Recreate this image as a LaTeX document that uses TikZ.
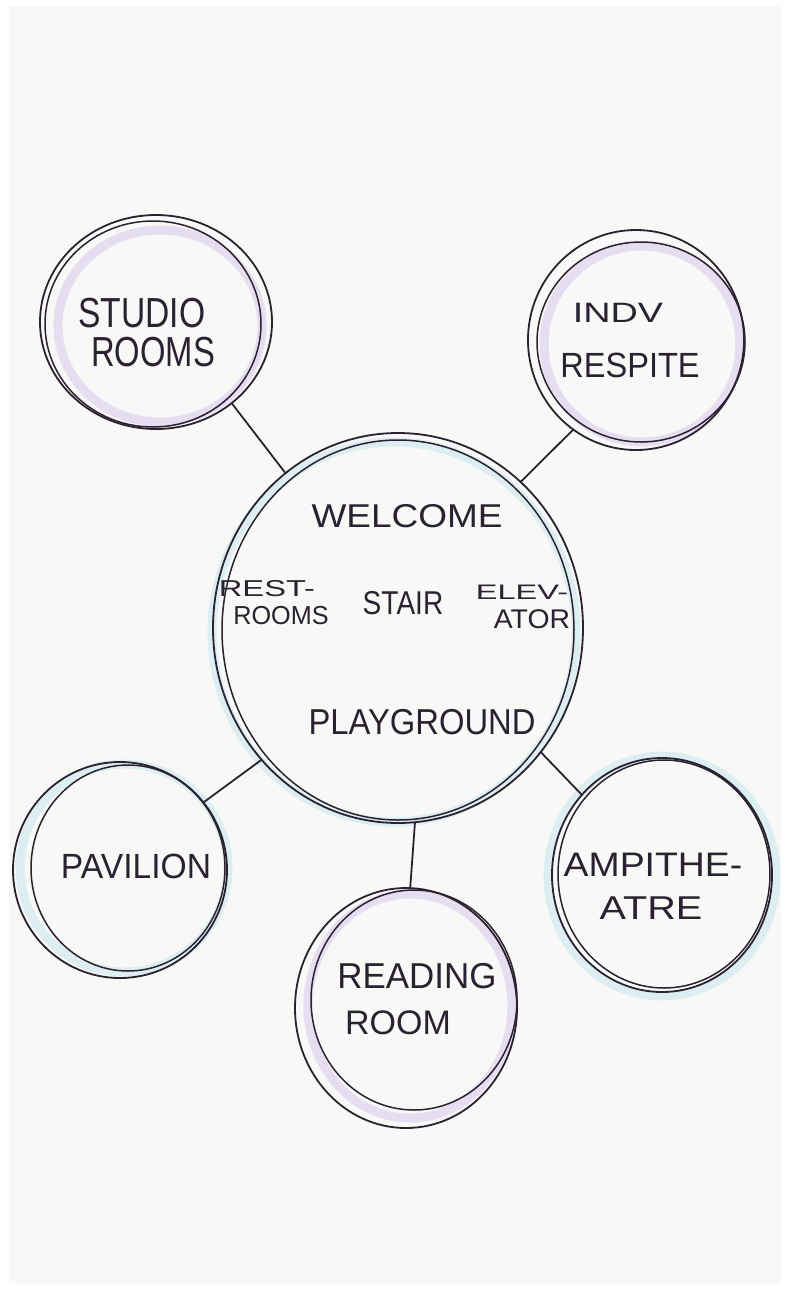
\documentclass[tikz,border=0pt]{standalone}
\usepackage{fontspec}
\setmainfont{Liberation Sans}
\usetikzlibrary{shapes.geometric}
\definecolor{ink}{HTML}{2A2230}
\definecolor{paper}{HTML}{F8F8F6}
\definecolor{lav}{HTML}{C8B6EA}
\definecolor{aqua}{HTML}{B8E2EE}
\tikzset{
  bubble/.style={ellipse, draw=ink, line width=1.8pt, inner sep=0pt, outer sep=0pt},
  stroke/.style={draw=ink, line width=1.5pt},
  glowp/.style={draw=lav, line width=9pt, opacity=0.38},
  glowb/.style={draw=aqua, line width=9pt, opacity=0.42},
  link/.style={draw=ink, line width=1.8pt},
  lbl/.style={inner sep=0pt, text=ink, font=\fontsize{#1}{#1}\selectfont},
}
\begin{document}
\begin{tikzpicture}[x=1pt,y=-1pt]
\fill[white] (0,0) rectangle (788,1291);
\fill[paper] (9,6) rectangle (781,1284);
\useasboundingbox (0,0) rectangle (788,1291);

% soft marker glows
\draw[glowp] (160,326) ellipse [x radius=102pt, y radius=96pt];
\draw[glowp] (642,344) ellipse [x radius=98pt, y radius=98pt];
\draw[glowb] (394,632) ellipse [x radius=182pt, y radius=190pt];
\draw[glowb] (124,868) ellipse [x radius=104pt, y radius=104pt];
\draw[glowp] (410,1006) ellipse [x radius=102pt, y radius=112pt];
\draw[glowb] (662,876) ellipse [x radius=114pt, y radius=120pt];

% bubbles
\node[bubble, minimum width=232pt, minimum height=214pt] (studio) at (156,322) {};
\node[bubble, minimum width=216pt, minimum height=220pt] (indv) at (636,340) {};
\node[bubble, minimum width=370pt, minimum height=390pt] (central) at (398,628) {};
\node[bubble, minimum width=214pt, minimum height=216pt] (pavilion) at (120,870) {};
\node[bubble, minimum width=222pt, minimum height=240pt] (reading) at (406,1008) {};
\node[bubble, minimum width=220pt, minimum height=234pt] (amph) at (662,875) {};

% second pencil strokes
\draw[stroke] (153,324) ellipse [x radius=108pt, y radius=103pt];
\draw[stroke] (641,342) ellipse [x radius=104pt, y radius=100pt];
\draw[stroke] (398,630) ellipse [x radius=176pt, y radius=190pt];
\draw[stroke] (128,868) ellipse [x radius=97pt, y radius=103pt];
\draw[stroke] (414,1000) ellipse [x radius=103pt, y radius=110pt];
\draw[stroke] (664,874) ellipse [x radius=106pt, y radius=114pt];

% connectors
\draw[link] (studio.-47) -- (central.126);
\draw[link] (indv.235) -- (central.50);
\draw[link] (pavilion.39) -- (central.224);
\draw[link] (central.-85) -- (reading.88);
\draw[link] (amph.135) -- (central.-41);

% labels
\node[lbl=42, xscale=0.8] (t1) at (142,313) {STUDIO};
\node[lbl=42, xscale=0.78] (t2) at (153,352) {ROOMS};
\node[lbl=28, xscale=1.35] (t3) at (618,313) {INDV};
\node[lbl=35, xscale=0.93] (t4) at (630,365) {RESPITE};
\node[lbl=33, xscale=1.12] (t5) at (407,516) {WELCOME};
\node[lbl=23, xscale=1.42] (t6) at (267,589) {REST-};
\node[lbl=26, xscale=0.97] (t7) at (281,616) {ROOMS};
\node[lbl=33, xscale=0.85] (t8) at (403,603) {STAIR};
\node[lbl=21, xscale=1.55] (t9) at (522,592) {ELEV-};
\node[lbl=27, xscale=1.05] (t10) at (532,619) {ATOR};
\node[lbl=36, xscale=0.91] (t11) at (422,722) {PLAYGROUND};
\node[lbl=35, xscale=0.96] (t12) at (136,866) {PAVILION};
\node[lbl=36, xscale=0.97] (t13) at (417,976) {READING};
\node[lbl=34, xscale=1.0] (t14) at (398,1023) {ROOM};
\node[lbl=34, xscale=1.1] (t15) at (653,865) {AMPITHE-};
\node[lbl=33, xscale=1.2] (t16) at (651,908) {ATRE};
\end{tikzpicture}
\end{document}
